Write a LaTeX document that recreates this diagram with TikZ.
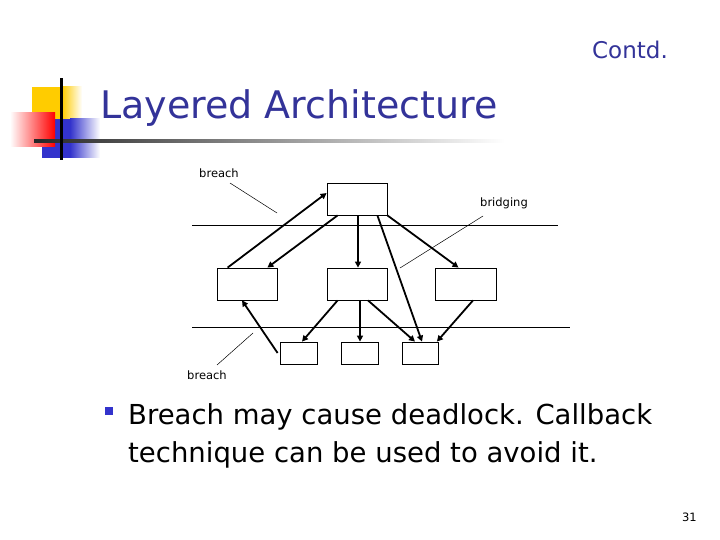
\documentclass[tikz,border=0pt]{standalone}
\usepackage{fontspec}
\setmainfont{DejaVu Sans}
\usetikzlibrary{arrows.meta}
\definecolor{titleblue}{RGB}{51,51,153}
\definecolor{bulletblue}{RGB}{51,51,204}
\definecolor{logoyellow}{RGB}{255,204,0}
\definecolor{logored}{RGB}{255,0,0}
\definecolor{logoblue}{RGB}{51,51,204}
\tikzset{
  box/.style={draw=black, line width=0.8pt, inner sep=0pt, fill=white},
  link/.style={draw=black, line width=1.8pt, -{Triangle[length=6pt,width=6pt]}},
  leader/.style={draw=black, line width=0.5pt},
  layer/.style={draw=black, line width=0.9pt},
  lbl/.style={font=\fontsize{11.5}{13}\selectfont, inner sep=0pt},
  bodytext/.style={anchor=base west, inner sep=0pt, font=\fontsize{27.5}{33}\selectfont}
}
\begin{document}
\begin{tikzpicture}[x=1pt,y=-1pt]
\useasboundingbox (0,0) rectangle (720,540);
% logo
\fill[logoyellow] (32,87) rectangle (62,119);
\shade[left color=logoyellow, right color=white, draw=none] (62,87) rectangle (82,119);
\fill[logoblue] (42,119) rectangle (70,158);
\shade[left color=logoblue, right color=white, draw=none] (70,119) rectangle (100,158);
\shade[shading=axis, shading angle=60, left color=white, right color=logored, draw=none] (10,113) rectangle (55,147);
\shade[left color=black!85, right color=white] (34,139.5) rectangle (505,142.5);
\fill[black] (59.8,78) rectangle (62.5,160);
% titles
\node[anchor=base west, inner sep=0pt, text=titleblue, font=\fontsize{38}{44}\selectfont] (title) at (100,119) {Layered Architecture};
\node[anchor=base east, inner sep=0pt, text=titleblue, font=\fontsize{23}{27}\selectfont] (contd) at (668,59) {Contd.};
% layer lines
\draw[layer] (192,225) -- (558,225);
\draw[layer] (192,327) -- (570,327);
% boxes
\node[box, minimum width=60pt, minimum height=32pt] (T) at (357,199) {};
\node[box, minimum width=60pt, minimum height=32pt] (M1) at (247,284) {};
\node[box, minimum width=60pt, minimum height=32pt] (M2) at (357,284) {};
\node[box, minimum width=61pt, minimum height=32pt] (M3) at (465.5,284) {};
\node[box, minimum width=37pt, minimum height=22pt] (B1) at (298.5,353) {};
\node[box, minimum width=37pt, minimum height=22pt] (B2) at (360,353) {};
\node[box, minimum width=36pt, minimum height=22pt] (B3) at (420,353) {};
% arrows
\draw[link] ([xshift=11pt]M1.north west) -- ([yshift=6pt]T.west);
\draw[link] ([xshift=11pt]T.south west) -- ([xshift=-10pt]M1.north east);
\draw[link] ([xshift=1pt]T.south) -- ([xshift=1pt]M2.north);
\draw[link] ([xshift=-10pt]T.south east) -- ([xshift=2pt]B3.north);
\draw[link] (T.south east) -- ([xshift=-7pt]M3.north);
\draw[link] ([xshift=-2pt]B1.west) -- ([xshift=-5pt]M1.south);
\draw[link] ([xshift=11pt]M2.south west) -- ([xshift=3.5pt]B1.north);
\draw[link] ([xshift=3pt]M2.south) -- (B2.north);
\draw[link] ([xshift=11pt]M2.south) -- ([xshift=-5pt]B3.north);
\draw[link] ([xshift=7.5pt]M3.south) -- ([xshift=-1.5pt]B3.north east);
% labels
\node[lbl] (br1) at (219,173) {breach};
\node[lbl] (brg) at (504,203.5) {bridging};
\node[lbl] (br2) at (207,375) {breach};
\coordinate (br1a) at (230,183); \coordinate (br1b) at (277,213);
\coordinate (brga) at (483,216); \coordinate (brgb) at (400,268);
\coordinate (br2a) at (217,365); \coordinate (br2b) at (253,333);
\draw[leader] (br1a) -- (br1b);
\draw[leader] (brga) -- (brgb);
\draw[leader] (br2a) -- (br2b);
% bullet text
\fill[bulletblue] (105,407) rectangle (113,415);
\node[bodytext] (body1) at (128,424) {Breach may cause deadlock. Callback};
\node[bodytext] (body2) at (128,462) {technique can be used to avoid it.};
\node[anchor=base east, inner sep=0pt, font=\fontsize{11.5}{13}\selectfont] (pg) at (697,521) {31};
\end{tikzpicture}
\end{document}
